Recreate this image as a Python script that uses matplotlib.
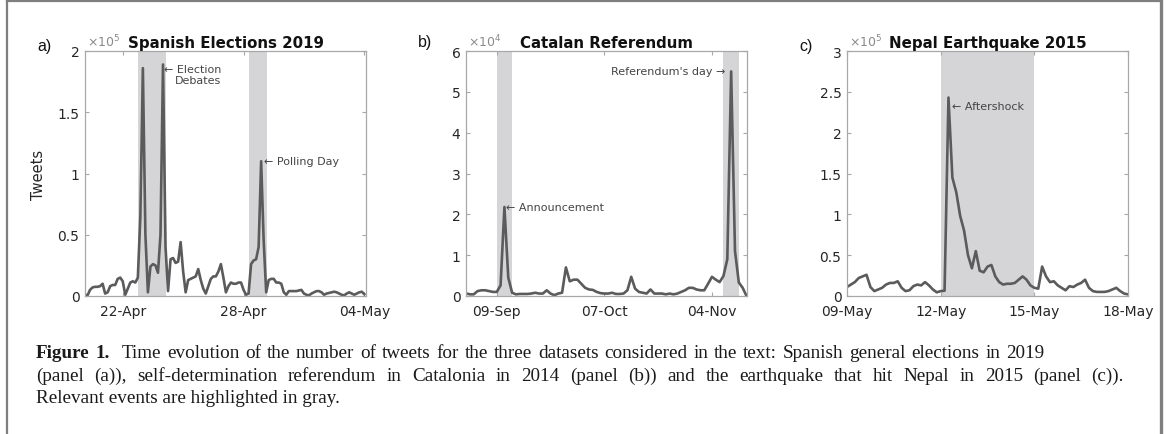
import numpy as np
import pandas as pd
import matplotlib
matplotlib.use("Agg")
import matplotlib.pyplot as plt
import matplotlib.dates as mdates
from matplotlib.lines import Line2D
from matplotlib.ticker import FuncFormatter

# ---------- data (tweet counts) ----------

# a) Spanish elections 2019, 3-hourly counts in units of 1e5
start_a = "2019-04-20 03:00"
tweets_a = [
    0.01, 0.005, 0.05, 0.07, 0.075, 0.075, 0.08, 0.10, 0.02, 0.03,
    0.08, 0.09, 0.09, 0.14, 0.15, 0.12, 0.01, 0.06, 0.11, 0.12,
    0.11, 0.15, 0.65, 1.86, 0.50, 0.03, 0.24, 0.26, 0.25, 0.19,
    0.50, 1.89, 0.40, 0.04, 0.30, 0.31, 0.27, 0.28, 0.44, 0.20,
    0.03, 0.13, 0.14, 0.15, 0.16, 0.22, 0.13, 0.06, 0.02, 0.08,
    0.14, 0.16, 0.16, 0.20, 0.26, 0.15, 0.03, 0.08, 0.11, 0.10,
    0.10, 0.11, 0.11, 0.05, 0.01, 0.02, 0.26, 0.29, 0.30, 0.40,
    1.10, 0.45, 0.03, 0.13, 0.14, 0.14, 0.11, 0.11, 0.10, 0.03,
    0.01, 0.04, 0.04, 0.04, 0.04, 0.045, 0.05, 0.02, 0.01, 0.005,
    0.02, 0.03, 0.04, 0.04, 0.03, 0.01, 0.02, 0.025, 0.03, 0.035,
    0.03, 0.02, 0.01, 0.005, 0.02, 0.03, 0.02, 0.01, 0.02, 0.03,
    0.035, 0.015,
]
events_a = [("2019-04-22 18:00", "2019-04-24 03:00"),
            ("2019-04-28 07:00", "2019-04-29 03:30")]
ticks_a = ["2019-04-22", "2019-04-28", "2019-05-04"]

# b) Catalan referendum 2014, daily counts in units of 1e4
start_b = "2014-09-01"
tweets_b = [
    0.065, 0.04, 0.04, 0.12, 0.14, 0.14, 0.12, 0.10, 0.10, 0.26,
    2.18, 0.45, 0.08, 0.04, 0.05, 0.05, 0.05, 0.06, 0.08, 0.06,
    0.06, 0.14, 0.06, 0.02, 0.06, 0.08, 0.70, 0.36, 0.40, 0.40,
    0.30, 0.20, 0.16, 0.15, 0.10, 0.07, 0.06, 0.06, 0.08, 0.05,
    0.05, 0.06, 0.14, 0.47, 0.18, 0.10, 0.08, 0.06, 0.16, 0.06,
    0.06, 0.06, 0.04, 0.06, 0.04, 0.06, 0.10, 0.14, 0.20, 0.20,
    0.16, 0.14, 0.14, 0.30, 0.47, 0.40, 0.34, 0.49, 0.90, 5.50,
    1.10, 0.33, 0.20, 0.0,
]
events_b = [("2014-09-09", "2014-09-13"),
            ("2014-11-07", "2014-11-11")]
ticks_b = ["2014-09-09", "2014-10-07", "2014-11-04"]

# c) Nepal earthquake 2015, 3-hourly counts in units of 1e5
start_c = "2015-05-09 00:00"
tweets_c = [
    0.11, 0.14, 0.17, 0.22, 0.24, 0.26, 0.11, 0.06, 0.08, 0.10,
    0.14, 0.16, 0.16, 0.18, 0.10, 0.06, 0.07, 0.12, 0.14, 0.13,
    0.17, 0.13, 0.08, 0.045, 0.06, 0.065, 2.43, 1.45, 1.27, 0.98,
    0.80, 0.50, 0.34, 0.55, 0.31, 0.29, 0.36, 0.38, 0.24, 0.17,
    0.14, 0.15, 0.15, 0.16, 0.20, 0.24, 0.20, 0.13, 0.10, 0.09,
    0.36, 0.24, 0.17, 0.18, 0.13, 0.10, 0.07, 0.12, 0.11, 0.14,
    0.16, 0.20, 0.10, 0.06, 0.05, 0.05, 0.05, 0.06, 0.08, 0.10,
    0.06, 0.03, 0.02,
]
events_c = [("2015-05-12", "2015-05-15")]
ticks_c = ["2015-05-09", "2015-05-12", "2015-05-15", "2015-05-18"]

caption_lines = [
    "Time evolution of the number of tweets for the three datasets considered "
    "in the text: Spanish general elections in 2019",
    "(panel (a)), self-determination referendum in Catalonia in 2014 (panel (b)) "
    "and the earthquake that hit Nepal in 2015 (panel (c)).",
    "Relevant events are highlighted in gray.",
]

# ---------- series ----------
ser_a = pd.Series(np.array(tweets_a) * 1e5,
                  index=pd.date_range(start_a, periods=len(tweets_a), freq="3h"))
ser_b = pd.Series(np.array(tweets_b) * 1e4,
                  index=pd.date_range(start_b, periods=len(tweets_b), freq="D"))
ser_c = pd.Series(np.array(tweets_c) * 1e5,
                  index=pd.date_range(start_c, periods=len(tweets_c), freq="3h"))

LINE = "#5b5b5b"
SHADE = "#d5d5d8"
SPINE = "#a8a8a8"
TXT = "#262626"

plt.rcParams["font.family"] = "DejaVu Sans"

fig = plt.figure(figsize=(11.68, 4.35), dpi=100)

panels = [
    dict(ser=ser_a, scale=1e5, exp=5, events=events_a, ticks=ticks_a,
         xlim=("2019-04-20 03:00", "2019-05-04 02:00"), ylim=2, ystep=0.5,
         title="Spanish Elections 2019", left=85, tag="a)", tag_y=47),
    dict(ser=ser_b, scale=1e4, exp=4, events=events_b, ticks=ticks_b,
         xlim=("2014-09-01", "2014-11-13 03:00"), ylim=6, ystep=1,
         title="Catalan Referendum", left=466, tag="b)", tag_y=42),
    dict(ser=ser_c, scale=1e5, exp=5, events=events_c, ticks=ticks_c,
         xlim=("2015-05-09", "2015-05-18"), ylim=3, ystep=0.5,
         title="Nepal Earthquake 2015", left=847, tag="c)", tag_y=46),
]

W, H = 1168, 435
axes = []
for p in panels:
    ax = fig.add_axes([p["left"] / W, 1 - 297 / H, 281 / W, 245 / H])
    axes.append(ax)
    for s, e in p["events"]:
        ax.axvspan(pd.Timestamp(s), pd.Timestamp(e), color=SHADE, lw=0, zorder=0)
    ax.plot(p["ser"].index, p["ser"].values, color=LINE, lw=1.9, zorder=2)

    ax.set_xlim(pd.Timestamp(p["xlim"][0]), pd.Timestamp(p["xlim"][1]))
    ax.set_ylim(0, p["ylim"] * p["scale"])
    ax.set_xticks([pd.Timestamp(t) for t in p["ticks"]])
    ax.xaxis.set_major_formatter(mdates.DateFormatter("%d-%b"))
    ax.set_yticks(np.arange(0, p["ylim"] + 1e-9, p["ystep"]) * p["scale"])
    sc = p["scale"]
    ax.yaxis.set_major_formatter(FuncFormatter(lambda v, pos, sc=sc: f"{v / sc:g}"))
    ax.tick_params(direction="in", length=3, width=0.8, color=SPINE,
                   labelsize=10, labelcolor=TXT, top=True, right=True, pad=4)
    ax.tick_params(axis="x", pad=6)
    for sp in ax.spines.values():
        sp.set_color(SPINE)
        sp.set_linewidth(0.9)

    ax.set_title(p["title"], fontsize=10.8, fontweight="bold", color="#111111", pad=3)
    ax.text(0.008, 1.005, r"$\times\mathregular{10^{%d}}$" % p["exp"],
            transform=ax.transAxes, ha="left", va="bottom", fontsize=9, color="#8a8a8a")
    fig.text((p["left"] - 48) / W, 1 - p["tag_y"] / H, p["tag"], fontsize=11.5,
             family="Liberation Sans", ha="left", va="center", color="#111111")

# event labels
ann = dict(fontsize=8, color="#444444")
axes[0].text(pd.Timestamp("2019-04-24 01:00"), 1.89e5, "\u2190 Election\nDebates",
             ha="left", va="top", multialignment="right", linespacing=1.1, **ann)
axes[0].text(pd.Timestamp("2019-04-29 00:30"), 1.10e5, "\u2190 Polling Day",
             ha="left", va="center", **ann)
axes[1].text(pd.Timestamp("2014-09-11 12:00"), 2.18e4, "\u2190 Announcement",
             ha="left", va="center", **ann)
axes[1].text(pd.Timestamp("2014-11-07 12:00"), 5.5e4, "Referendum's day \u2192",
             ha="right", va="center", **ann)
axes[2].text(pd.Timestamp("2015-05-12 08:30"), 2.33e5, "\u2190 Aftershock",
             ha="left", va="center", **ann)

axes[0].set_ylabel("Tweets", fontsize=10.5, color=TXT, labelpad=8)

# ---------- caption, justified word by word ----------
cap_font = dict(family="Liberation Serif", fontsize=13.8, color="#1a1a1a", va="baseline")
renderer = fig.canvas.get_renderer()


def put_line(words, x0, x1, y, lead_gap=0.0):
    # words: list of (text, weight); spread them so the line spans x0..x1 (pixels)
    arts = [fig.text(0, 1 - y / H, w, fontweight=wt, **cap_font) for w, wt in words]
    widths = [a.get_window_extent(renderer).width for a in arts]
    gap = (x1 - x0 - sum(widths) - lead_gap) / (len(arts) - 1)
    x = x0
    for i, (a, wdt) in enumerate(zip(arts, widths)):
        a.set_x(x / W)
        x += wdt + gap + (lead_gap if i == 1 else 0)


line1 = [("Figure", "bold"), ("1.", "bold")] + [(w, "normal") for w in caption_lines[0].split()]
put_line(line1, 36, 1044, 358, lead_gap=6)
put_line([(w, "normal") for w in caption_lines[1].split()], 36, 1124, 381)
fig.text(36 / W, 1 - 403 / H, caption_lines[2], **cap_font)

# figure frame
frame = dict(color="#7f7f7f", lw=1.6, transform=fig.transFigure)
fig.add_artist(Line2D([7 / W, 7 / W], [0, 1 - 2 / H], **frame))
fig.add_artist(Line2D([7 / W, 1161 / W], [1 - 2 / H, 1 - 2 / H], **frame))
fig.add_artist(Line2D([1161 / W, 1161 / W], [0, 1 - 2 / H], color="#7f7f7f", lw=2.4,
                      transform=fig.transFigure))

fig.savefig("out.png", dpi=100)
